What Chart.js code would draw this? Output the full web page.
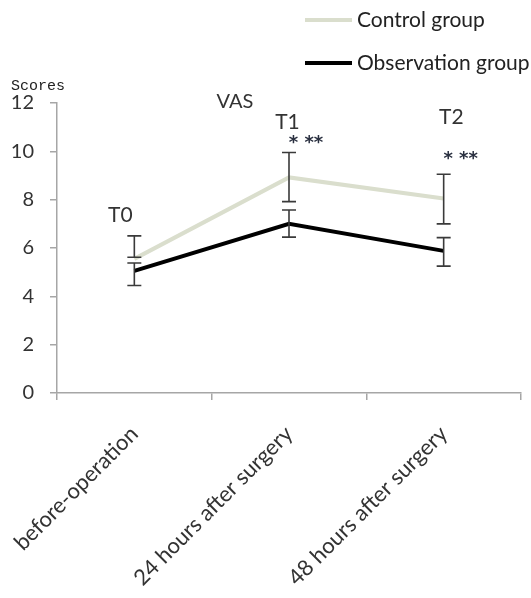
<!DOCTYPE html>
<html>
<head>
<meta charset="utf-8">
<script src="https://cdn.jsdelivr.net/npm/chart.js@4/dist/chart.umd.min.js"></script>
<style>
  html, body { margin: 0; padding: 0; background: #ffffff; }
  #wrap { width: 531px; height: 598px; position: relative; }
</style>
</head>
<body>
<div id="wrap"><canvas id="c" width="531" height="598"></canvas></div>
<script>
// ---- data ----
const categories = ["before-operation", "24 hours after surgery", "48 hours after surgery"];
const seriesNames = ["Control group", "Observation group"];
const controlMean = [5.55, 8.92, 8.05];
const controlLow  = [5.62, 7.92, 7.0];
const controlHigh = [6.5, 9.95, 9.05];
const obsMean = [5.05, 7.0, 5.88];
const obsLow  = [4.45, 6.45, 5.25];
const obsHigh = [5.38, 7.57, 6.43];
const yTicks = [0, 2, 4, 6, 8, 10, 12];
const yAxisLabel = "Scores";
const chartTitle = "VAS";
// time-point labels: text, category position, score position
const pointLabels = ["T0", "T1", "T2"];
const pointLabelX = [-0.09, -0.01, 0.05];
const pointLabelY = [7.35, 11.2, 11.4];
const starLabels = ["", "* **", "* **"];
const starLabelY = [0, 10.35, 9.65];
const titleX = 0.65, titleY = 12.05;

const FONT = "Lato, 'Open Sans', sans-serif";
const TEXT = "#333333";
const AXIS = "#a6a6a6";

const errorBarPlugin = {
  id: 'errorBars',
  afterDatasetsDraw(chart) {
    const ctx = chart.ctx;
    const xs = chart.scales.x, ys = chart.scales.y;
    const sets = [[controlLow, controlHigh], [obsLow, obsHigh]];
    ctx.save();
    ctx.strokeStyle = "#3a3a3a";
    ctx.lineWidth = 1.6;
    sets.forEach(([lo, hi]) => {
      lo.forEach((l, i) => {
        const x = xs.getPixelForValue(i);
        const y1 = ys.getPixelForValue(l), y2 = ys.getPixelForValue(hi[i]);
        ctx.beginPath();
        ctx.moveTo(x, y1); ctx.lineTo(x, y2);
        ctx.moveTo(x - 7, y1); ctx.lineTo(x + 7, y1);
        ctx.moveTo(x - 7, y2); ctx.lineTo(x + 7, y2);
        ctx.stroke();
      });
    });
    ctx.restore();
  }
};

const textPlugin = {
  id: 'texts',
  afterDraw(chart) {
    const ctx = chart.ctx;
    const xs = chart.scales.x, ys = chart.scales.y;
    const area = chart.chartArea;
    ctx.save();
    ctx.fillStyle = TEXT;
    ctx.textAlign = 'center';
    ctx.textBaseline = 'middle';
    // title
    ctx.font = "20px " + FONT;
    ctx.fillText(chartTitle, xs.getPixelForValue(titleX), ys.getPixelForValue(titleY));
    // time point labels
    ctx.font = "21px " + FONT;
    pointLabels.forEach((t, i) => {
      ctx.fillText(t, xs.getPixelForValue(i + pointLabelX[i]), ys.getPixelForValue(pointLabelY[i]));
    });
    // significance stars
    ctx.font = "bold 18px 'DejaVu Sans', sans-serif";
    ctx.fillStyle = "#2a3040";
    starLabels.forEach((t, i) => {
      if (!t) return;
      ctx.fillText(t, xs.getPixelForValue(i) + 17, ys.getPixelForValue(starLabelY[i]));
    });
    // y axis label
    ctx.fillStyle = "#222";
    ctx.textAlign = 'left';
    ctx.font = "15px 'Liberation Mono', monospace";
    ctx.fillText(yAxisLabel, 11, area.top - 17);
    // legend
    ctx.font = "21px " + FONT;
    ctx.fillStyle = "#222";
    chart.data.datasets.forEach((ds, i) => {
      const y = 20 + i * 43;
      ctx.strokeStyle = ds.borderColor;
      ctx.lineWidth = 4;
      ctx.beginPath();
      ctx.moveTo(305, y); ctx.lineTo(352, y);
      ctx.stroke();
      ctx.fillText(ds.label, 357, y);
    });
    ctx.restore();
  }
};

new Chart(document.getElementById('c'), {
  type: 'line',
  data: {
    labels: categories,
    datasets: [
      { label: seriesNames[0], data: controlMean, borderColor: "#dadecd", borderWidth: 4, pointRadius: 0, tension: 0 },
      { label: seriesNames[1], data: obsMean, borderColor: "#000000", borderWidth: 4, pointRadius: 0, tension: 0 }
    ]
  },
  options: {
    responsive: false,
    animation: false,
    events: [],
    layout: { padding: { top: 103, right: 10, left: 0, bottom: 0 } },
    plugins: { legend: { display: false }, tooltip: { enabled: false } },
    scales: {
      x: {
        offset: true,
        grid: { offset: true, drawOnChartArea: false, drawTicks: true, tickLength: 7, color: AXIS, lineWidth: 1.5 },
        border: { color: AXIS, width: 1.5 },
        ticks: { autoSkip: false, minRotation: 45, maxRotation: 45, padding: 21, color: TEXT, font: { family: FONT, size: 22 } },
        afterFit(scale) { scale.height = 205; scale.paddingLeft = 0; scale.paddingRight = 0; }
      },
      y: {
        min: 0, max: 12,
        afterBuildTicks(scale) { scale.ticks = yTicks.map(v => ({ value: v })); },
        grid: { drawOnChartArea: false, drawTicks: true, tickLength: 7, color: AXIS, lineWidth: 1.5 },
        border: { color: AXIS, width: 1.5 },
        ticks: { padding: 16, color: TEXT, font: { family: FONT, size: 20 } },
        afterFit(scale) { scale.width = 57; scale.paddingTop = 0; scale.paddingBottom = 0; }
      }
    }
  },
  plugins: [errorBarPlugin, textPlugin]
});
</script>
</body>
</html>
